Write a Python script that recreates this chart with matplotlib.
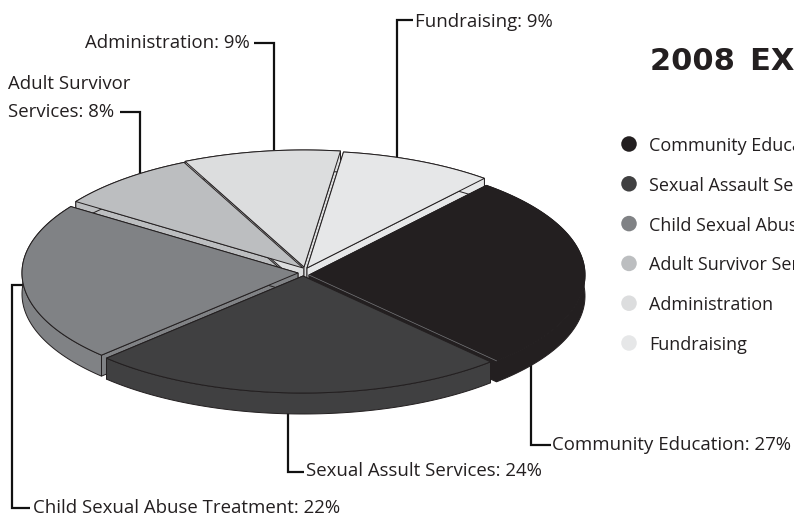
# 2008 expenses pie, drawn by hand so the tilted slabs look like the original
import numpy as np
import matplotlib.pyplot as plt
from matplotlib.patches import Polygon

plt.rcParams['font.family'] = ['Open Sans', 'DejaVu Sans']

# legend names and printed percentages
categories = ['Community Education', 'Sexual Assault Services', 'Child Sexual Abuse Treatment',
              'Adult Survivor Services', 'Administration', 'Fundraising']
printed_percent = [27, 24, 22, 8, 9, 9]
# slice sizes (the printed numbers only add up to 99)
drawn_share = [27, 24.5, 22, 8.3, 9.2, 9.0]
colors = ['#231f20', '#404041', '#808285', '#bcbec0', '#dcddde', '#e6e7e8']

TEXT = '#231f20'
CENTER = (303, 271)
RX, RY = 276, 117
DEPTH = 21
START_ANGLE = 50
# how far each slice was pulled out of the centre, pixels
SHIFT_X = [6, 0, -5, 0, 1, 4]
SHIFT_Y = [4, 5, 2, -3, -4, -3]


def slice_outline(index, a1, a2):
    x0 = CENTER[0] + SHIFT_X[index]
    y0 = CENTER[1] + SHIFT_Y[index]
    angles = np.radians(np.linspace(a1, a2, 80))
    arc = np.column_stack([x0 + RX * np.cos(angles), y0 - RY * np.sin(angles)])
    return np.array([x0, y0]), arc


def draw_walls(ax, index, a1, a2):
    apex, arc = slice_outline(index, a1, a2)
    drop = np.array([0, DEPTH])
    style = dict(facecolor=colors[index], edgecolor='#231f20', linewidth=0.7, zorder=3)
    for end in (arc[0], arc[-1]):
        quad = np.array([apex, end, end + drop, apex + drop])
        ax.add_patch(Polygon(quad, closed=True, **style))
    ax.add_patch(Polygon(np.vstack([arc, (arc + drop)[::-1]]), closed=True, **style))


def draw_top(ax, index, a1, a2):
    apex, arc = slice_outline(index, a1, a2)
    ax.add_patch(Polygon(np.vstack([apex, arc]), closed=True, facecolor=colors[index],
                         edgecolor='#231f20', linewidth=0.7, zorder=4))


def draw_leader(ax, points):
    xs, ys = zip(*points)
    ax.plot(xs, ys, color='#111111', linewidth=1.6, solid_joinstyle='miter', solid_capstyle='butt', zorder=2)


def draw_label(ax, x, y, text, ha='left'):
    ax.text(x, y + 2, text, fontsize=13.4, color=TEXT, va='center', ha=ha)


fig = plt.figure(figsize=(7.94, 5.18), dpi=100)
ax = fig.add_axes([0, 0, 1, 1])
ax.set_xlim(0, 794)
ax.set_ylim(518, 0)
ax.axis('off')

# slice angles, clockwise from the start angle
edges = START_ANGLE - np.cumsum([0] + drawn_share) * 3.6
# all walls first, back slices before front ones, then the top faces
order = [3, 4, 5, 2, 0, 1]
for i in order:
    draw_walls(ax, i, edges[i], edges[i + 1])
for i in order:
    draw_top(ax, i, edges[i], edges[i + 1])

# thin pale line on the lower cut of the black slice
apex, arc = slice_outline(0, edges[0], edges[1])
ax.plot([apex[0], arc[-1][0]], [apex[1], arc[-1][1]], color='#77787b', linewidth=0.5, zorder=5)

# leader lines run behind the pie
draw_leader(ax, [(397, 170), (397, 20), (413, 20)])
draw_leader(ax, [(274, 170), (274, 43), (254, 43)])
draw_leader(ax, [(140, 190), (140, 112), (120, 112)])
draw_leader(ax, [(531, 350), (531, 445), (551, 445)])
draw_leader(ax, [(288, 400), (288, 472), (304, 472)])
draw_leader(ax, [(30, 285), (12, 285), (12, 508), (30, 508)])

draw_label(ax, 415, 20, f'Fundraising: {printed_percent[5]}%')
draw_label(ax, 250, 41, f'Administration: {printed_percent[4]}%', ha='right')
draw_label(ax, 8, 82, 'Adult Survivor')
draw_label(ax, 8, 110, f'Services: {printed_percent[3]}%')
draw_label(ax, 552, 443, f'{categories[0]}: {printed_percent[0]}%')
draw_label(ax, 306, 469, f'Sexual Assult Services: {printed_percent[1]}%')
draw_label(ax, 33, 506, f'{categories[2]}: {printed_percent[2]}%')

ax.text(650, 61, '2008\u2002EXPENSES', fontsize=22, fontweight='bold', family='DejaVu Sans', color=TEXT, va='center')

# legend column
legend_y = 144 + np.arange(len(categories)) * 39.8
ax.scatter([629] * len(categories), legend_y, s=125, c=colors, linewidths=0, zorder=3)
for name, y in zip(categories, legend_y):
    ax.text(649, y + 2, name, fontsize=13, color=TEXT, va='center')

fig.savefig('out.png', dpi=100)
